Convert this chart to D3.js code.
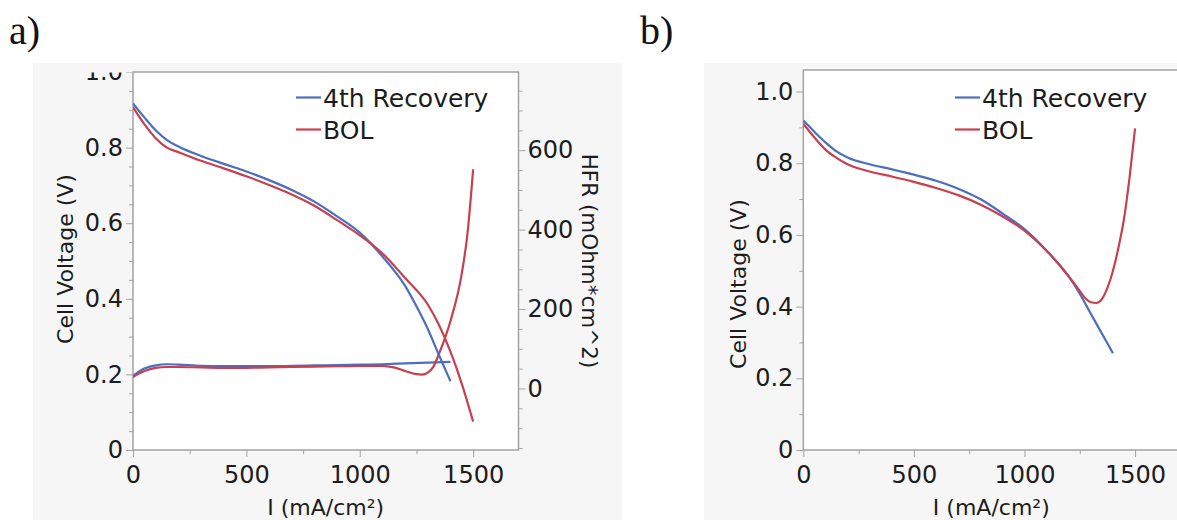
<!DOCTYPE html>
<html>
<head>
<meta charset="utf-8">
<script src="https://cdn.jsdelivr.net/npm/d3@7"></script>
<style>
  body { margin: 0; background: #ffffff; }
  text { font-family: "DejaVu Sans", sans-serif; fill: #1c1c1c; }
</style>
</head>
<body>
<svg id="fig" width="1177" height="520"></svg>
<script>
// ---- Panel a: polarization curves (cell voltage vs current density) ----
const aRecCurrent = [0, 50, 100, 150, 200, 300, 400, 500, 600, 700, 800, 900, 1000, 1100, 1200, 1250, 1300, 1350, 1400];
const aRecVoltage = [0.917, 0.880, 0.846, 0.820, 0.803, 0.778, 0.757, 0.737, 0.714, 0.688, 0.657, 0.618, 0.575, 0.512, 0.434, 0.380, 0.320, 0.250, 0.182];
const aBolCurrent = [0, 50, 100, 150, 200, 300, 400, 500, 600, 700, 800, 900, 1000, 1100, 1200, 1300, 1350, 1400, 1450, 1500];
const aBolVoltage = [0.907, 0.862, 0.825, 0.800, 0.788, 0.765, 0.745, 0.724, 0.701, 0.676, 0.646, 0.608, 0.568, 0.520, 0.455, 0.385, 0.330, 0.260, 0.175, 0.075];

// ---- Panel a: high-frequency resistance (right axis) ----
const aRecHfrCurrent = [0, 50, 100, 150, 200, 300, 400, 500, 600, 700, 800, 900, 1000, 1100, 1200, 1300, 1400];
const aRecHfr = [32, 50, 58, 61, 60, 57, 56, 56, 56, 57, 58, 59, 60, 61, 63, 65, 67];
const aBolHfrCurrent = [0, 50, 100, 150, 200, 300, 400, 500, 600, 700, 800, 900, 1000, 1100, 1150, 1200, 1250, 1275, 1300, 1325, 1350, 1400, 1450, 1475, 1500];
const aBolHfr = [29, 44, 52, 54, 54, 53, 52, 52, 53, 54, 55, 56, 57, 57, 53, 44, 36, 35, 40, 55, 88, 170, 290, 390, 552];

// ---- Panel b: polarization curves ----
const bRecCurrent = [0, 50, 100, 150, 200, 300, 400, 500, 600, 700, 800, 900, 1000, 1100, 1200, 1250, 1300, 1350, 1400];
const bRecVoltage = [0.919, 0.888, 0.858, 0.833, 0.816, 0.797, 0.783, 0.768, 0.751, 0.729, 0.700, 0.660, 0.616, 0.556, 0.484, 0.436, 0.380, 0.325, 0.270];
const bBolCurrent = [0, 50, 100, 150, 200, 300, 400, 500, 600, 700, 800, 900, 1000, 1100, 1200, 1250, 1275, 1300, 1325, 1350, 1375, 1400, 1425, 1450, 1475, 1500];
const bBolVoltage = [0.910, 0.872, 0.838, 0.815, 0.797, 0.777, 0.763, 0.748, 0.731, 0.711, 0.685, 0.652, 0.612, 0.556, 0.484, 0.444, 0.423, 0.412, 0.410, 0.421, 0.452, 0.500, 0.565, 0.645, 0.760, 0.897];

// ---- Axis ticks and labels ----
const xMajorTicks = [0, 500, 1000, 1500];
const xMinorTicks = [250, 750, 1250];
const vMajorTicks = [0, 0.2, 0.4, 0.6, 0.8, 1.0];
const vMinorTicksA = [0.05, 0.1, 0.15, 0.25, 0.3, 0.35, 0.45, 0.5, 0.55, 0.65, 0.7, 0.75, 0.85, 0.9, 0.95];
const vMinorTicksB = [0.1, 0.3, 0.5, 0.7, 0.9];
const hfrMajorTicks = [0, 200, 400, 600];
const hfrMinorTicks = [-150, -100, -50, 50, 100, 150, 250, 300, 350, 450, 500, 550, 650, 700, 750];
const seriesNames = ["4th Recovery", "BOL"];
const xTitle = "I (mA/cm²)";
const vTitle = "Cell Voltage (V)";
const hfrTitle = "HFR (mOhm*cm^2)";

const COLORS = { rec: "#4a6fc1", bol: "#c8404f" };
const AXIS_GRAY = "#a3a3a3";
const TICK_FONT = 24;

const svg = d3.select("#fig");
svg.append("rect").attr("width", 1177).attr("height", 520).attr("fill", "#ffffff");

// light gray panel backgrounds
svg.append("rect").attr("x", 33).attr("y", 63).attr("width", 589).attr("height", 457).attr("fill", "#f6f6f6");
svg.append("rect").attr("x", 704).attr("y", 63).attr("width", 473).attr("height", 457).attr("fill", "#f6f6f6");

// panel letters
svg.append("text").attr("x", 9).attr("y", 44).text("a)")
  .style("font-family", "'Liberation Serif', serif").attr("font-size", 40).style("fill", "#111");
svg.append("text").attr("x", 640).attr("y", 44).text("b)")
  .style("font-family", "'Liberation Serif', serif").attr("font-size", 40).style("fill", "#111");

const vFormat = d => d === 0 ? "0" : d.toFixed(1);

function styleAxis(g, fontSize) {
  g.select(".domain").remove();
  g.selectAll(".tick line").attr("stroke", AXIS_GRAY).attr("stroke-width", 1);
  g.attr("font-family", null).attr("font-size", fontSize);
  g.selectAll(".tick text").style("fill", "#1c1c1c");
}

function drawPanel(cfg) {
  const x = d3.scaleLinear().domain([0, 1700]).range([cfg.left, cfg.right]);
  const y = d3.scaleLinear().domain([0, cfg.vMax]).range([cfg.bottom, cfg.top]);
  const root = svg.append("g");

  // plot area
  root.append("rect")
    .attr("x", cfg.left).attr("y", cfg.top)
    .attr("width", cfg.right - cfg.left).attr("height", cfg.bottom - cfg.top)
    .attr("fill", "#ffffff");

  const clipId = "clip-" + cfg.id;
  root.append("clipPath").attr("id", clipId)
    .append("rect").attr("x", cfg.left).attr("y", cfg.top)
    .attr("width", cfg.right - cfg.left).attr("height", cfg.bottom - cfg.top);

  // left axis labels never extend above the frame (local coordinates of the axis group)
  const leftClip = "lclip-" + cfg.id;
  root.append("clipPath").attr("id", leftClip)
    .append("rect").attr("x", -120).attr("y", cfg.top + 0.5)
    .attr("width", 130).attr("height", 520);

  // x axis
  const gx = root.append("g").attr("transform", `translate(0,${cfg.bottom})`)
    .call(d3.axisBottom(x).tickValues(xMajorTicks).tickSize(7).tickPadding(9).tickFormat(d => String(d)));
  styleAxis(gx, TICK_FONT);
  const gxm = root.append("g").attr("transform", `translate(0,${cfg.bottom})`)
    .call(d3.axisBottom(x).tickValues(xMinorTicks).tickSize(4).tickFormat(""));
  styleAxis(gxm, TICK_FONT);

  // left voltage axis
  const gy = root.append("g").attr("transform", `translate(${cfg.left},0)`)
    .attr("clip-path", `url(#${leftClip})`)
    .call(d3.axisLeft(y).tickValues(vMajorTicks).tickSize(7).tickPadding(3).tickFormat(vFormat));
  styleAxis(gy, TICK_FONT);
  const gym = root.append("g").attr("transform", `translate(${cfg.left},0)`)
    .call(d3.axisLeft(y).tickValues(cfg.vMinor).tickSize(4).tickFormat(""));
  styleAxis(gym, TICK_FONT);

  // frame
  root.append("rect")
    .attr("x", cfg.left).attr("y", cfg.top)
    .attr("width", cfg.right - cfg.left).attr("height", cfg.bottom - cfg.top)
    .attr("fill", "none").attr("stroke", AXIS_GRAY).attr("stroke-width", 1.5);

  // titles
  root.append("text").attr("x", (cfg.left + cfg.right) / 2).attr("y", 515)
    .attr("text-anchor", "middle").attr("font-size", 22).text(xTitle);
  root.append("text")
    .attr("transform", `translate(${cfg.vTitleX},${cfg.vTitleY}) rotate(-90)`)
    .attr("text-anchor", "middle").attr("font-size", 22).text(vTitle);

  const plot = root.append("g").attr("clip-path", `url(#${clipId})`);
  const line = d3.line().curve(d3.curveMonotoneX).x(d => x(d[0])).y(d => y(d[1]));

  return { x, y, root, plot, line };
}

function drawLegend(root, lx, ly) {
  const rows = [COLORS.rec, COLORS.bol];
  rows.forEach((c, i) => {
    const yy = ly + i * 32;
    root.append("line").attr("x1", lx).attr("x2", lx + 25).attr("y1", yy).attr("y2", yy)
      .attr("stroke", c).attr("stroke-width", 2.2);
    root.append("text").attr("x", lx + 27).attr("y", yy + 9)
      .attr("font-size", 25).text(seriesNames[i]);
  });
}

const zip = (a, b) => a.map((v, i) => [v, b[i]]);

// ---------- panel a ----------
const A = drawPanel({ id: "a", left: 133, right: 518.5, top: 72, bottom: 450, vMax: 1.0, vMinor: vMinorTicksA, vTitleX: 73, vTitleY: 259 });

// right HFR axis
const hfr = d3.scaleLinear().domain([-155, 797]).range([450, 72]);
const gr = A.root.append("g").attr("transform", "translate(518.5,0)")
  .call(d3.axisRight(hfr).tickValues(hfrMajorTicks).tickSize(7).tickPadding(2).tickFormat(d => String(d)));
styleAxis(gr, TICK_FONT);
const grm = A.root.append("g").attr("transform", "translate(518.5,0)")
  .call(d3.axisRight(hfr).tickValues(hfrMinorTicks).tickSize(4).tickFormat(""));
styleAxis(grm, TICK_FONT);
A.root.append("text")
  .attr("transform", `translate(582,261) rotate(90)`)
  .attr("text-anchor", "middle").attr("font-size", 21.5).text(hfrTitle);

const hfrLine = d3.line().curve(d3.curveMonotoneX).x(d => A.x(d[0])).y(d => hfr(d[1]));

A.plot.append("path").datum(zip(aRecHfrCurrent, aRecHfr)).attr("d", hfrLine)
  .attr("fill", "none").attr("stroke", COLORS.rec).attr("stroke-width", 2.2);
A.plot.append("path").datum(zip(aBolHfrCurrent, aBolHfr)).attr("d", hfrLine)
  .attr("fill", "none").attr("stroke", COLORS.bol).attr("stroke-width", 2.2);
A.plot.append("path").datum(zip(aRecCurrent, aRecVoltage)).attr("d", A.line)
  .attr("fill", "none").attr("stroke", COLORS.rec).attr("stroke-width", 2.2);
A.plot.append("path").datum(zip(aBolCurrent, aBolVoltage)).attr("d", A.line)
  .attr("fill", "none").attr("stroke", COLORS.bol).attr("stroke-width", 2.2);
drawLegend(A.root, 296, 97.5);

// ---------- panel b ----------
const B = drawPanel({ id: "b", left: 803.3, right: 1179.3, top: 70, bottom: 450, vMax: 1.06, vMinor: vMinorTicksB, vTitleX: 746, vTitleY: 284 });
B.plot.append("path").datum(zip(bRecCurrent, bRecVoltage)).attr("d", B.line)
  .attr("fill", "none").attr("stroke", COLORS.rec).attr("stroke-width", 2.2);
B.plot.append("path").datum(zip(bBolCurrent, bBolVoltage)).attr("d", B.line)
  .attr("fill", "none").attr("stroke", COLORS.bol).attr("stroke-width", 2.2);
drawLegend(B.root, 955, 97.5);
</script>
</body>
</html>
